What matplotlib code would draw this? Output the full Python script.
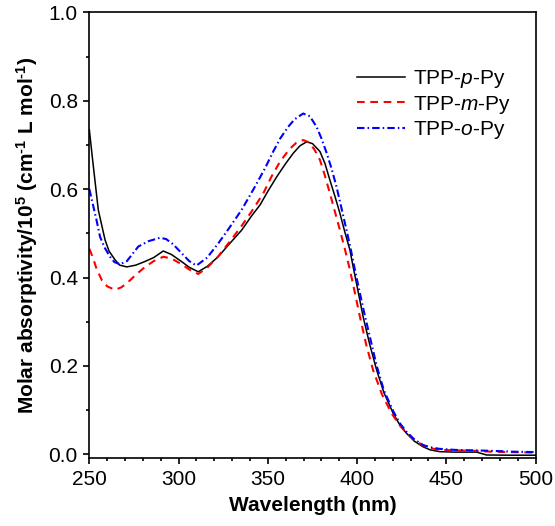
import matplotlib
matplotlib.use("Agg")
import matplotlib.pyplot as plt
from matplotlib.ticker import MultipleLocator
import numpy as np

plt.rcParams['font.family'] = ['Liberation Sans', 'DejaVu Sans']
plt.rcParams['mathtext.fontset'] = 'custom'
plt.rcParams['mathtext.rm'] = 'Liberation Sans:bold'
plt.rcParams['mathtext.it'] = 'Liberation Sans:italic'
plt.rcParams['mathtext.bf'] = 'Liberation Sans:bold'
plt.rcParams['lines.scale_dashes'] = False

# Wavelength (nm) and molar absorptivity (1e5 cm^-1 L mol^-1)
wl_p = [250, 252, 255, 258.8, 261, 264.4, 267, 271, 276, 281, 286, 291.4, 296, 301.7, 306, 311, 316, 322.2,
        328, 335.3, 341, 345.6, 350, 355, 360, 364.2, 368, 371.7, 375, 379.2, 382, 384.8, 387.5, 390.4,
        393, 396, 397.8, 400, 403.4, 407, 411, 415, 420.2, 424, 427.7, 432, 437, 441, 446.4, 455, 467,
        472.5, 485, 500]
abs_p = [0.734, 0.66, 0.553, 0.485, 0.46, 0.44, 0.428, 0.424, 0.428, 0.436, 0.445, 0.46, 0.452, 0.436, 0.423,
         0.413, 0.425, 0.447, 0.474, 0.507, 0.54, 0.564, 0.595, 0.628, 0.658, 0.681, 0.698, 0.707, 0.703,
         0.685, 0.658, 0.62, 0.585, 0.545, 0.505, 0.462, 0.424, 0.38, 0.311, 0.25, 0.19, 0.14, 0.093,
         0.066, 0.0475, 0.03, 0.017, 0.01, 0.006, 0.005, 0.005, -0.0015, -0.002, -0.002]

wl_m = [250, 252, 254, 257, 260, 264.4, 268, 271.8, 276, 281.2, 286, 291.4, 296, 301.7, 306, 311, 316, 322,
        328, 335, 341, 347.4, 352, 356.8, 362, 366, 369.8, 373, 376, 379.2, 382, 384.8, 387.5, 390.4,
        393, 396, 398, 401.6, 405, 409, 414, 419.3, 424, 428, 432, 437, 441, 446, 455, 465, 475, 487, 500]
abs_m = [0.465, 0.445, 0.42, 0.394, 0.38, 0.372, 0.378, 0.39, 0.406, 0.424, 0.437, 0.447, 0.443, 0.43, 0.418,
         0.408, 0.422, 0.447, 0.478, 0.515, 0.55, 0.59, 0.628, 0.662, 0.69, 0.705, 0.711, 0.706, 0.69,
         0.666, 0.63, 0.59, 0.55, 0.507, 0.467, 0.417, 0.38, 0.311, 0.25, 0.19, 0.135, 0.093, 0.065,
         0.047, 0.033, 0.02, 0.014, 0.01, 0.009, 0.008, 0.006, 0.005, 0.004]

wl_o = [250, 252, 254, 256, 258.5, 261.6, 264, 267.2, 271, 277.4, 283, 289.6, 293, 297, 301.7, 306, 310,
        316, 322.2, 328, 335.3, 342, 348.4, 353, 357, 361.4, 365, 369.8, 373.5, 377.3, 380, 383, 385.8,
        388.5, 391.3, 394.1, 396.5, 398.8, 401, 404, 407.5, 411, 415, 420.2, 424, 427.7, 432, 437, 441,
        446, 455, 465, 475, 487, 500]
abs_o = [0.6, 0.565, 0.53, 0.492, 0.468, 0.447, 0.435, 0.43, 0.437, 0.47, 0.482, 0.49, 0.487, 0.475, 0.455,
         0.437, 0.427, 0.445, 0.477, 0.51, 0.553, 0.6, 0.647, 0.685, 0.715, 0.741, 0.758, 0.771, 0.765,
         0.741, 0.715, 0.681, 0.645, 0.605, 0.556, 0.507, 0.463, 0.417, 0.375, 0.32, 0.26, 0.2, 0.145,
         0.098, 0.07, 0.051, 0.034, 0.021, 0.016, 0.0125, 0.01, 0.009, 0.008, 0.006, 0.005]

labels = ['TPP-$\\mathit{p}$-Py', 'TPP-$\\mathit{m}$-Py', 'TPP-$\\mathit{o}$-Py']

fig = plt.figure(figsize=(5.55, 5.26), dpi=100)
ax = fig.add_axes([0.161, 0.1287, 0.804, 0.8479])

ax.plot(wl_p, abs_p, color='black', lw=1.1, label=labels[0])
ax.plot(wl_m, abs_m, color='#ff0000', lw=1.5, dashes=(5.5, 4.1), label=labels[1])
ax.plot(wl_o, abs_o, color='#0000ff', lw=1.5, dashes=(5.4, 2.2, 1.1, 2.2), label=labels[2])

ax.set_xlim(250, 500)
ax.set_ylim(-0.009, 1.0)
ax.xaxis.set_major_locator(MultipleLocator(50))
ax.xaxis.set_minor_locator(MultipleLocator(10))
ax.yaxis.set_major_locator(MultipleLocator(0.2))
ax.yaxis.set_minor_locator(MultipleLocator(0.1))
ax.set_yticks([0.0, 0.2, 0.4, 0.6, 0.8, 1.0])
ax.set_yticklabels(['0.0', '0.2', '0.4', '0.6', '0.8', '1.0'])
ax.tick_params(which='both', direction='out', top=False, right=False, width=1.2)
ax.tick_params(which='major', length=4.3, labelsize=15, pad=4)
ax.tick_params(which='minor', length=2.3)
for s in ax.spines.values():
    s.set_linewidth(1.2)

ax.set_xlabel('Wavelength (nm)', fontsize=15, fontweight='bold', labelpad=5)
ax.set_ylabel('Molar absorptivity/10$^{5}$ (cm$^{\\text{-1}}$ L mol$^{\\text{-1}}$)',
              fontsize=15, fontweight='bold', labelpad=6)

ax.legend(loc='upper right', bbox_to_anchor=(0.977, 0.908), frameon=False, fontsize=15,
          handlelength=2.3, handletextpad=0.35, labelspacing=0.18, borderaxespad=0.3)

fig.savefig('out.png', dpi=100)
